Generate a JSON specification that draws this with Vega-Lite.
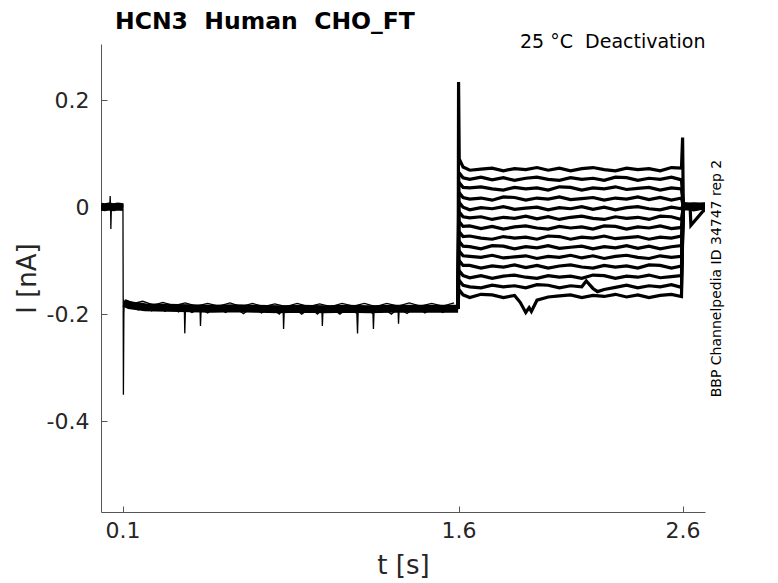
{
"$schema":"https://vega.github.io/schema/vega-lite/v6.json",
"width":604,"height":468,
"autosize":{"type":"none"},
"padding":{"left":101,"top":44,"right":73,"bottom":71},
"background":"white",
"config":{"view":{"stroke":null},"font":"DejaVu Sans","axis":{"grid":false,"domainColor":"#555555","tickColor":"#555555","labelColor":"#262626","titleColor":"#262626","titleFontWeight":"normal","labelFont":"DejaVu Sans","titleFont":"DejaVu Sans"}},
"title":{"text":"HCN3\u00a0 Human\u00a0 CHO_FT","anchor":"start","frame":"group","dx":14,"dy":24,"offset":4,"baseline":"alphabetic","fontSize":23.5,"fontWeight":"bold","color":"#000000","font":"DejaVu Sans"},
"resolve":{"axis":{"x":"independent","y":"independent"}},
"datasets":{
"band":[
{"s":"h","t":0.004,"i":0.001},{"s":"h","t":0.02,"i":0.0},{"s":"h","t":0.04,"i":0.001},{"s":"h","t":0.06,"i":0.0},{"s":"h","t":0.08,"i":0.001},{"s":"h","t":0.103,"i":0.0},
{"s":"a","t":0.107,"i":-0.179},{"s":"a","t":0.13,"i":-0.183},{"s":"a","t":0.16,"i":-0.185},{"s":"a","t":0.2,"i":-0.187},{"s":"a","t":0.3,"i":-0.188},{"s":"a","t":0.4,"i":-0.189},{"s":"a","t":0.5,"i":-0.19},{"s":"a","t":0.6,"i":-0.189},{"s":"a","t":0.7,"i":-0.19},{"s":"a","t":0.8,"i":-0.191},{"s":"a","t":0.9,"i":-0.19},{"s":"a","t":1.0,"i":-0.191},{"s":"a","t":1.1,"i":-0.19},{"s":"a","t":1.2,"i":-0.191},{"s":"a","t":1.3,"i":-0.19},{"s":"a","t":1.4,"i":-0.19},{"s":"a","t":1.5,"i":-0.19},{"s":"a","t":1.598,"i":-0.19}
],
"thin":[
{"s":"n1","t":0.004,"i":0.004},{"s":"n1","t":0.012,"i":-0.003},{"s":"n1","t":0.02,"i":0.004},{"s":"n1","t":0.028,"i":-0.002},{"s":"n1","t":0.036,"i":0.004},{"s":"n1","t":0.043,"i":-0.002},{"s":"n1","t":0.045,"i":0.021},{"s":"n1","t":0.047,"i":-0.002},{"s":"n1","t":0.048,"i":-0.041},{"s":"n1","t":0.05,"i":-0.006},{"s":"n1","t":0.054,"i":0.003},{"s":"n1","t":0.062,"i":-0.003},{"s":"n1","t":0.07,"i":0.004},{"s":"n1","t":0.078,"i":-0.002},{"s":"n1","t":0.086,"i":0.004},{"s":"n1","t":0.094,"i":-0.003},{"s":"n1","t":0.102,"i":0.002},{"s":"n1","t":0.104,"i":-0.351},{"s":"n1","t":0.106,"i":-0.2},{"s":"n1","t":0.108,"i":-0.176},{"s":"n1","t":0.12,"i":-0.183},{"s":"n1","t":0.14,"i":-0.178},{"s":"n1","t":0.17,"i":-0.192},{"s":"n1","t":0.2,"i":-0.184},{"s":"n1","t":0.23,"i":-0.194},{"s":"n1","t":0.26,"i":-0.184},{"s":"n1","t":0.29,"i":-0.195},{"s":"n1","t":0.32,"i":-0.185},{"s":"n1","t":0.35,"i":-0.196},{"s":"n1","t":0.376,"i":-0.19},{"s":"n1","t":0.378,"i":-0.236},{"s":"n1","t":0.381,"i":-0.19},{"s":"n1","t":0.41,"i":-0.197},{"s":"n1","t":0.446,"i":-0.19},{"s":"n1","t":0.448,"i":-0.222},{"s":"n1","t":0.451,"i":-0.191},{"s":"n1","t":0.48,"i":-0.198},{"s":"n1","t":0.52,"i":-0.186},{"s":"n1","t":0.56,"i":-0.197},{"s":"n1","t":0.6,"i":-0.187},{"s":"n1","t":0.64,"i":-0.199},{"s":"n1","t":0.68,"i":-0.186},{"s":"n1","t":0.72,"i":-0.198},{"s":"n1","t":0.76,"i":-0.188},{"s":"n1","t":0.8,"i":-0.2},{"s":"n1","t":0.817,"i":-0.19},{"s":"n1","t":0.819,"i":-0.228},{"s":"n1","t":0.822,"i":-0.192},{"s":"n1","t":0.86,"i":-0.187},{"s":"n1","t":0.9,"i":-0.2},{"s":"n1","t":0.94,"i":-0.188},{"s":"n1","t":0.97,"i":-0.2},{"s":"n1","t":0.99,"i":-0.192},{"s":"n1","t":0.992,"i":-0.222},{"s":"n1","t":0.995,"i":-0.192},{"s":"n1","t":1.03,"i":-0.187},{"s":"n1","t":1.07,"i":-0.2},{"s":"n1","t":1.11,"i":-0.188},{"s":"n1","t":1.146,"i":-0.199},{"s":"n1","t":1.149,"i":-0.236},{"s":"n1","t":1.152,"i":-0.193},{"s":"n1","t":1.19,"i":-0.187},{"s":"n1","t":1.218,"i":-0.2},{"s":"n1","t":1.22,"i":-0.228},{"s":"n1","t":1.223,"i":-0.193},{"s":"n1","t":1.26,"i":-0.188},{"s":"n1","t":1.3,"i":-0.2},{"s":"n1","t":1.33,"i":-0.19},{"s":"n1","t":1.332,"i":-0.218},{"s":"n1","t":1.335,"i":-0.19},{"s":"n1","t":1.37,"i":-0.199},{"s":"n1","t":1.41,"i":-0.186},{"s":"n1","t":1.45,"i":-0.198},{"s":"n1","t":1.49,"i":-0.187},{"s":"n1","t":1.53,"i":-0.197},{"s":"n1","t":1.57,"i":-0.186},{"s":"n1","t":1.598,"i":-0.192},
{"s":"n2","t":0.11,"i":-0.174},{"s":"n2","t":0.15,"i":-0.18},{"s":"n2","t":0.19,"i":-0.176},{"s":"n2","t":0.24,"i":-0.183},{"s":"n2","t":0.28,"i":-0.178},{"s":"n2","t":0.33,"i":-0.184},{"s":"n2","t":0.38,"i":-0.179},{"s":"n2","t":0.43,"i":-0.185},{"s":"n2","t":0.48,"i":-0.18},{"s":"n2","t":0.53,"i":-0.185},{"s":"n2","t":0.58,"i":-0.179},{"s":"n2","t":0.63,"i":-0.186},{"s":"n2","t":0.68,"i":-0.18},{"s":"n2","t":0.73,"i":-0.186},{"s":"n2","t":0.78,"i":-0.181},{"s":"n2","t":0.83,"i":-0.186},{"s":"n2","t":0.88,"i":-0.18},{"s":"n2","t":0.93,"i":-0.186},{"s":"n2","t":0.98,"i":-0.181},{"s":"n2","t":1.03,"i":-0.186},{"s":"n2","t":1.08,"i":-0.18},{"s":"n2","t":1.13,"i":-0.185},{"s":"n2","t":1.18,"i":-0.18},{"s":"n2","t":1.23,"i":-0.186},{"s":"n2","t":1.28,"i":-0.18},{"s":"n2","t":1.33,"i":-0.185},{"s":"n2","t":1.38,"i":-0.179},{"s":"n2","t":1.43,"i":-0.185},{"s":"n2","t":1.48,"i":-0.18},{"s":"n2","t":1.53,"i":-0.185},{"s":"n2","t":1.58,"i":-0.179}
],
"deact":[
{"s":"d01","t":1.598,"i":-0.19},{"s":"d01","t":1.6,"i":0.234},{"s":"d01","t":1.603,"i":0.09},{"s":"d01","t":1.62,"i":0.075},{"s":"d01","t":1.65,"i":0.069},{"s":"d01","t":1.7,"i":0.071},{"s":"d01","t":1.75,"i":0.073},{"s":"d01","t":1.8,"i":0.068},{"s":"d01","t":1.85,"i":0.072},{"s":"d01","t":1.9,"i":0.07},{"s":"d01","t":1.95,"i":0.074},{"s":"d01","t":2.0,"i":0.069},{"s":"d01","t":2.05,"i":0.073},{"s":"d01","t":2.1,"i":0.068},{"s":"d01","t":2.15,"i":0.072},{"s":"d01","t":2.2,"i":0.074},{"s":"d01","t":2.25,"i":0.07},{"s":"d01","t":2.3,"i":0.068},{"s":"d01","t":2.35,"i":0.073},{"s":"d01","t":2.4,"i":0.07},{"s":"d01","t":2.45,"i":0.072},{"s":"d01","t":2.5,"i":0.068},{"s":"d01","t":2.55,"i":0.074},{"s":"d01","t":2.595,"i":0.073},{"s":"d01","t":2.6,"i":0.13},{"s":"d01","t":2.603,"i":0.006},{"s":"d01","t":2.65,"i":0.005},{"s":"d01","t":2.7,"i":0.006},
{"s":"d02","t":1.598,"i":-0.19},{"s":"d02","t":1.601,"i":0.065},{"s":"d02","t":1.62,"i":0.055},{"s":"d02","t":1.65,"i":0.052},{"s":"d02","t":1.7,"i":0.056},{"s":"d02","t":1.75,"i":0.051},{"s":"d02","t":1.8,"i":0.055},{"s":"d02","t":1.85,"i":0.05},{"s":"d02","t":1.9,"i":0.054},{"s":"d02","t":1.95,"i":0.056},{"s":"d02","t":2.0,"i":0.052},{"s":"d02","t":2.05,"i":0.05},{"s":"d02","t":2.1,"i":0.055},{"s":"d02","t":2.15,"i":0.052},{"s":"d02","t":2.2,"i":0.054},{"s":"d02","t":2.25,"i":0.05},{"s":"d02","t":2.3,"i":0.056},{"s":"d02","t":2.35,"i":0.055},{"s":"d02","t":2.4,"i":0.05},{"s":"d02","t":2.45,"i":0.054},{"s":"d02","t":2.5,"i":0.052},{"s":"d02","t":2.55,"i":0.056},{"s":"d02","t":2.595,"i":0.051},{"s":"d02","t":2.603,"i":0.004},{"s":"d02","t":2.65,"i":0.006},{"s":"d02","t":2.7,"i":0.004},
{"s":"d03","t":1.598,"i":-0.19},{"s":"d03","t":1.601,"i":0.047},{"s":"d03","t":1.62,"i":0.037},{"s":"d03","t":1.65,"i":0.036},{"s":"d03","t":1.7,"i":0.038},{"s":"d03","t":1.75,"i":0.034},{"s":"d03","t":1.8,"i":0.032},{"s":"d03","t":1.85,"i":0.037},{"s":"d03","t":1.9,"i":0.034},{"s":"d03","t":1.95,"i":0.036},{"s":"d03","t":2.0,"i":0.032},{"s":"d03","t":2.05,"i":0.038},{"s":"d03","t":2.1,"i":0.037},{"s":"d03","t":2.15,"i":0.032},{"s":"d03","t":2.2,"i":0.036},{"s":"d03","t":2.25,"i":0.034},{"s":"d03","t":2.3,"i":0.038},{"s":"d03","t":2.35,"i":0.033},{"s":"d03","t":2.4,"i":0.035},{"s":"d03","t":2.45,"i":0.037},{"s":"d03","t":2.5,"i":0.032},{"s":"d03","t":2.55,"i":0.036},{"s":"d03","t":2.595,"i":0.034},{"s":"d03","t":2.603,"i":0.007},{"s":"d03","t":2.65,"i":0.003},{"s":"d03","t":2.7,"i":0.005},
{"s":"d04","t":1.598,"i":-0.19},{"s":"d04","t":1.601,"i":0.028},{"s":"d04","t":1.62,"i":0.018},{"s":"d04","t":1.65,"i":0.015},{"s":"d04","t":1.7,"i":0.017},{"s":"d04","t":1.75,"i":0.013},{"s":"d04","t":1.8,"i":0.019},{"s":"d04","t":1.85,"i":0.018},{"s":"d04","t":1.9,"i":0.013},{"s":"d04","t":1.95,"i":0.017},{"s":"d04","t":2.0,"i":0.015},{"s":"d04","t":2.05,"i":0.019},{"s":"d04","t":2.1,"i":0.014},{"s":"d04","t":2.15,"i":0.016},{"s":"d04","t":2.2,"i":0.018},{"s":"d04","t":2.25,"i":0.013},{"s":"d04","t":2.3,"i":0.017},{"s":"d04","t":2.35,"i":0.015},{"s":"d04","t":2.4,"i":0.019},{"s":"d04","t":2.45,"i":0.014},{"s":"d04","t":2.5,"i":0.018},{"s":"d04","t":2.55,"i":0.013},{"s":"d04","t":2.595,"i":0.017},{"s":"d04","t":2.603,"i":0.002},{"s":"d04","t":2.65,"i":0.004},{"s":"d04","t":2.7,"i":0.002},
{"s":"d05","t":1.598,"i":-0.19},{"s":"d05","t":1.601,"i":0.01},{"s":"d05","t":1.62,"i":0.0},{"s":"d05","t":1.65,"i":-0.005},{"s":"d05","t":1.7,"i":-0.001},{"s":"d05","t":1.75,"i":-0.003},{"s":"d05","t":1.8,"i":0.001},{"s":"d05","t":1.85,"i":-0.004},{"s":"d05","t":1.9,"i":-0.002},{"s":"d05","t":1.95,"i":0.0},{"s":"d05","t":2.0,"i":-0.005},{"s":"d05","t":2.05,"i":-0.001},{"s":"d05","t":2.1,"i":-0.003},{"s":"d05","t":2.15,"i":0.001},{"s":"d05","t":2.2,"i":-0.004},{"s":"d05","t":2.25,"i":0.0},{"s":"d05","t":2.3,"i":-0.005},{"s":"d05","t":2.35,"i":-0.001},{"s":"d05","t":2.4,"i":0.001},{"s":"d05","t":2.45,"i":-0.003},{"s":"d05","t":2.5,"i":-0.005},{"s":"d05","t":2.55,"i":0.0},{"s":"d05","t":2.595,"i":-0.003},{"s":"d05","t":2.603,"i":0.005},{"s":"d05","t":2.65,"i":0.001},{"s":"d05","t":2.7,"i":0.003},
{"s":"d06","t":1.598,"i":-0.19},{"s":"d06","t":1.601,"i":-0.008},{"s":"d06","t":1.62,"i":-0.018},{"s":"d06","t":1.65,"i":-0.02},{"s":"d06","t":1.7,"i":-0.018},{"s":"d06","t":1.75,"i":-0.023},{"s":"d06","t":1.8,"i":-0.019},{"s":"d06","t":1.85,"i":-0.021},{"s":"d06","t":1.9,"i":-0.017},{"s":"d06","t":1.95,"i":-0.022},{"s":"d06","t":2.0,"i":-0.018},{"s":"d06","t":2.05,"i":-0.023},{"s":"d06","t":2.1,"i":-0.019},{"s":"d06","t":2.15,"i":-0.017},{"s":"d06","t":2.2,"i":-0.021},{"s":"d06","t":2.25,"i":-0.023},{"s":"d06","t":2.3,"i":-0.018},{"s":"d06","t":2.35,"i":-0.021},{"s":"d06","t":2.4,"i":-0.019},{"s":"d06","t":2.45,"i":-0.023},{"s":"d06","t":2.5,"i":-0.017},{"s":"d06","t":2.55,"i":-0.018},{"s":"d06","t":2.595,"i":-0.023},{"s":"d06","t":2.603,"i":0.0},{"s":"d06","t":2.65,"i":0.003},{"s":"d06","t":2.7,"i":0.001},
{"s":"d07","t":1.598,"i":-0.19},{"s":"d07","t":1.601,"i":-0.026},{"s":"d07","t":1.62,"i":-0.036},{"s":"d07","t":1.65,"i":-0.035},{"s":"d07","t":1.7,"i":-0.04},{"s":"d07","t":1.75,"i":-0.036},{"s":"d07","t":1.8,"i":-0.041},{"s":"d07","t":1.85,"i":-0.037},{"s":"d07","t":1.9,"i":-0.035},{"s":"d07","t":1.95,"i":-0.039},{"s":"d07","t":2.0,"i":-0.041},{"s":"d07","t":2.05,"i":-0.036},{"s":"d07","t":2.1,"i":-0.039},{"s":"d07","t":2.15,"i":-0.037},{"s":"d07","t":2.2,"i":-0.041},{"s":"d07","t":2.25,"i":-0.035},{"s":"d07","t":2.3,"i":-0.036},{"s":"d07","t":2.35,"i":-0.041},{"s":"d07","t":2.4,"i":-0.037},{"s":"d07","t":2.45,"i":-0.039},{"s":"d07","t":2.5,"i":-0.035},{"s":"d07","t":2.55,"i":-0.04},{"s":"d07","t":2.595,"i":-0.038},{"s":"d07","t":2.603,"i":0.003},{"s":"d07","t":2.65,"i":-0.001},{"s":"d07","t":2.7,"i":0.002},
{"s":"d08","t":1.598,"i":-0.19},{"s":"d08","t":1.601,"i":-0.045},{"s":"d08","t":1.62,"i":-0.055},{"s":"d08","t":1.65,"i":-0.054},{"s":"d08","t":1.7,"i":-0.058},{"s":"d08","t":1.75,"i":-0.06},{"s":"d08","t":1.8,"i":-0.055},{"s":"d08","t":1.85,"i":-0.058},{"s":"d08","t":1.9,"i":-0.056},{"s":"d08","t":1.95,"i":-0.06},{"s":"d08","t":2.0,"i":-0.054},{"s":"d08","t":2.05,"i":-0.055},{"s":"d08","t":2.1,"i":-0.06},{"s":"d08","t":2.15,"i":-0.056},{"s":"d08","t":2.2,"i":-0.058},{"s":"d08","t":2.25,"i":-0.054},{"s":"d08","t":2.3,"i":-0.059},{"s":"d08","t":2.35,"i":-0.057},{"s":"d08","t":2.4,"i":-0.055},{"s":"d08","t":2.45,"i":-0.06},{"s":"d08","t":2.5,"i":-0.056},{"s":"d08","t":2.55,"i":-0.058},{"s":"d08","t":2.595,"i":-0.054},{"s":"d08","t":2.603,"i":-0.002},{"s":"d08","t":2.65,"i":0.002},{"s":"d08","t":2.7,"i":0.0},
{"s":"d09","t":1.598,"i":-0.19},{"s":"d09","t":1.601,"i":-0.063},{"s":"d09","t":1.62,"i":-0.073},{"s":"d09","t":1.65,"i":-0.074},{"s":"d09","t":1.7,"i":-0.078},{"s":"d09","t":1.75,"i":-0.072},{"s":"d09","t":1.8,"i":-0.073},{"s":"d09","t":1.85,"i":-0.078},{"s":"d09","t":1.9,"i":-0.074},{"s":"d09","t":1.95,"i":-0.076},{"s":"d09","t":2.0,"i":-0.072},{"s":"d09","t":2.05,"i":-0.077},{"s":"d09","t":2.1,"i":-0.075},{"s":"d09","t":2.15,"i":-0.073},{"s":"d09","t":2.2,"i":-0.078},{"s":"d09","t":2.25,"i":-0.074},{"s":"d09","t":2.3,"i":-0.076},{"s":"d09","t":2.35,"i":-0.072},{"s":"d09","t":2.4,"i":-0.077},{"s":"d09","t":2.45,"i":-0.073},{"s":"d09","t":2.5,"i":-0.078},{"s":"d09","t":2.55,"i":-0.074},{"s":"d09","t":2.595,"i":-0.072},{"s":"d09","t":2.603,"i":0.001},{"s":"d09","t":2.65,"i":-0.003},{"s":"d09","t":2.7,"i":0.001},
{"s":"d10","t":1.598,"i":-0.19},{"s":"d10","t":1.601,"i":-0.081},{"s":"d10","t":1.62,"i":-0.091},{"s":"d10","t":1.65,"i":-0.092},{"s":"d10","t":1.7,"i":-0.094},{"s":"d10","t":1.75,"i":-0.09},{"s":"d10","t":1.8,"i":-0.095},{"s":"d10","t":1.85,"i":-0.093},{"s":"d10","t":1.9,"i":-0.091},{"s":"d10","t":1.95,"i":-0.096},{"s":"d10","t":2.0,"i":-0.092},{"s":"d10","t":2.05,"i":-0.094},{"s":"d10","t":2.1,"i":-0.09},{"s":"d10","t":2.15,"i":-0.095},{"s":"d10","t":2.2,"i":-0.091},{"s":"d10","t":2.25,"i":-0.096},{"s":"d10","t":2.3,"i":-0.092},{"s":"d10","t":2.35,"i":-0.09},{"s":"d10","t":2.4,"i":-0.094},{"s":"d10","t":2.45,"i":-0.096},{"s":"d10","t":2.5,"i":-0.091},{"s":"d10","t":2.55,"i":-0.094},{"s":"d10","t":2.595,"i":-0.092},{"s":"d10","t":2.603,"i":-0.003},{"s":"d10","t":2.65,"i":0.0},{"s":"d10","t":2.7,"i":-0.001},
{"s":"d11","t":1.598,"i":-0.19},{"s":"d11","t":1.601,"i":-0.099},{"s":"d11","t":1.62,"i":-0.109},{"s":"d11","t":1.65,"i":-0.109},{"s":"d11","t":1.7,"i":-0.114},{"s":"d11","t":1.75,"i":-0.11},{"s":"d11","t":1.8,"i":-0.112},{"s":"d11","t":1.85,"i":-0.108},{"s":"d11","t":1.9,"i":-0.113},{"s":"d11","t":1.95,"i":-0.109},{"s":"d11","t":2.0,"i":-0.114},{"s":"d11","t":2.05,"i":-0.11},{"s":"d11","t":2.1,"i":-0.108},{"s":"d11","t":2.15,"i":-0.112},{"s":"d11","t":2.2,"i":-0.114},{"s":"d11","t":2.25,"i":-0.109},{"s":"d11","t":2.3,"i":-0.112},{"s":"d11","t":2.35,"i":-0.11},{"s":"d11","t":2.4,"i":-0.114},{"s":"d11","t":2.45,"i":-0.108},{"s":"d11","t":2.5,"i":-0.109},{"s":"d11","t":2.55,"i":-0.114},{"s":"d11","t":2.595,"i":-0.11},{"s":"d11","t":2.603,"i":0.0},{"s":"d11","t":2.65,"i":-0.004},{"s":"d11","t":2.7,"i":0.0},
{"s":"d12","t":1.598,"i":-0.19},{"s":"d12","t":1.601,"i":-0.118},{"s":"d12","t":1.62,"i":-0.128},{"s":"d12","t":1.65,"i":-0.132},{"s":"d12","t":1.7,"i":-0.128},{"s":"d12","t":1.75,"i":-0.133},{"s":"d12","t":1.8,"i":-0.129},{"s":"d12","t":1.85,"i":-0.127},{"s":"d12","t":1.9,"i":-0.131},{"s":"d12","t":1.95,"i":-0.133},{"s":"d12","t":2.0,"i":-0.128},{"s":"d12","t":2.05,"i":-0.131},{"s":"d12","t":2.1,"i":-0.129},{"s":"d12","t":2.15,"i":-0.133},{"s":"d12","t":2.2,"i":-0.127},{"s":"d12","t":2.25,"i":-0.128},{"s":"d12","t":2.3,"i":-0.133},{"s":"d12","t":2.35,"i":-0.129},{"s":"d12","t":2.4,"i":-0.131},{"s":"d12","t":2.45,"i":-0.127},{"s":"d12","t":2.5,"i":-0.132},{"s":"d12","t":2.55,"i":-0.13},{"s":"d12","t":2.595,"i":-0.128},{"s":"d12","t":2.603,"i":-0.004},{"s":"d12","t":2.65,"i":-0.002},{"s":"d12","t":2.7,"i":-0.002},
{"s":"d13","t":1.598,"i":-0.19},{"s":"d13","t":1.601,"i":-0.136},{"s":"d13","t":1.62,"i":-0.146},{"s":"d13","t":1.65,"i":-0.149},{"s":"d13","t":1.7,"i":-0.151},{"s":"d13","t":1.75,"i":-0.146},{"s":"d13","t":1.8,"i":-0.149},{"s":"d13","t":1.85,"i":-0.147},{"s":"d13","t":1.9,"i":-0.151},{"s":"d13","t":1.95,"i":-0.145},{"s":"d13","t":2.0,"i":-0.146},{"s":"d13","t":2.05,"i":-0.151},{"s":"d13","t":2.1,"i":-0.147},{"s":"d13","t":2.15,"i":-0.149},{"s":"d13","t":2.17,"i":-0.138},{"s":"d13","t":2.2,"i":-0.152},{"s":"d13","t":2.22,"i":-0.158},{"s":"d13","t":2.25,"i":-0.154},{"s":"d13","t":2.3,"i":-0.15},{"s":"d13","t":2.35,"i":-0.146},{"s":"d13","t":2.4,"i":-0.151},{"s":"d13","t":2.45,"i":-0.147},{"s":"d13","t":2.5,"i":-0.149},{"s":"d13","t":2.55,"i":-0.145},{"s":"d13","t":2.595,"i":-0.15},{"s":"d13","t":2.603,"i":-0.001},{"s":"d13","t":2.65,"i":-0.005},{"s":"d13","t":2.7,"i":-0.001},
{"s":"d14","t":1.598,"i":-0.19},{"s":"d14","t":1.601,"i":-0.154},{"s":"d14","t":1.62,"i":-0.164},{"s":"d14","t":1.65,"i":-0.169},{"s":"d14","t":1.7,"i":-0.163},{"s":"d14","t":1.75,"i":-0.164},{"s":"d14","t":1.8,"i":-0.169},{"s":"d14","t":1.85,"i":-0.165},{"s":"d14","t":1.875,"i":-0.178},{"s":"d14","t":1.9,"i":-0.197},{"s":"d14","t":1.915,"i":-0.188},{"s":"d14","t":1.925,"i":-0.195},{"s":"d14","t":1.95,"i":-0.174},{"s":"d14","t":2.0,"i":-0.168},{"s":"d14","t":2.05,"i":-0.166},{"s":"d14","t":2.1,"i":-0.164},{"s":"d14","t":2.15,"i":-0.169},{"s":"d14","t":2.2,"i":-0.165},{"s":"d14","t":2.25,"i":-0.167},{"s":"d14","t":2.3,"i":-0.163},{"s":"d14","t":2.35,"i":-0.168},{"s":"d14","t":2.4,"i":-0.164},{"s":"d14","t":2.45,"i":-0.169},{"s":"d14","t":2.5,"i":-0.165},{"s":"d14","t":2.55,"i":-0.163},{"s":"d14","t":2.595,"i":-0.167},{"s":"d14","t":2.603,"i":-0.002},{"s":"d14","t":2.634,"i":-0.003},{"s":"d14","t":2.637,"i":-0.034},{"s":"d14","t":2.69,"i":-0.008},{"s":"d14","t":2.7,"i":-0.005}
]
},
"layer":[
{"data":{"name":"deact"},"mark":{"type":"line","color":"#000000","strokeWidth":3.2,"clip":true},
"encoding":{
"x":{"field":"t","type":"quantitative","scale":{"domain":[0.004,2.7],"nice":false,"zero":false},
"axis":{"orient":"bottom","values":[0.1,1.6,2.6],"format":".1f","title":"t [s]","tickSize":-6,"labelFontSize":22,"titleFontSize":26,"labelPadding":14,"titlePadding":11,"labelFlush":false}},
"y":{"field":"i","type":"quantitative","scale":{"domain":[-0.57,0.305],"nice":false,"zero":false},
"axis":{"orient":"left","values":[0.2,0,-0.2,-0.4],"labelExpr":"datum.value > 0.1 ? '0.2' : datum.value > -0.1 ? '0' : datum.value > -0.3 ? '-0.2' : '-0.4'","title":"I [nA]","tickSize":-6,"labelFontSize":22,"titleFontSize":26,"labelPadding":18,"titlePadding":6}},
"detail":{"field":"s"}}},
{"data":{"name":"band"},"mark":{"type":"line","color":"#000000","strokeWidth":8,"clip":true},
"encoding":{
"x":{"field":"t","type":"quantitative","scale":{"domain":[0.004,2.7],"nice":false,"zero":false},
"axis":{"orient":"top","title":"25 °C\u00a0 Deactivation","labels":false,"ticks":false,"domain":false,"titleAnchor":"end","titleFontSize":19,"titleColor":"#000000","titleBaseline":"alphabetic","titlePadding":-3}},
"y":{"field":"i","type":"quantitative","scale":{"domain":[-0.57,0.305],"nice":false,"zero":false},
"axis":{"orient":"right","title":"BBP Channelpedia ID 34747 rep 2","labels":false,"ticks":false,"domain":false,"titleAngle":270,"titleBaseline":"middle","titleFontSize":14,"titleColor":"#000000","titlePadding":11}},
"detail":{"field":"s"}}},
{"data":{"name":"thin"},"mark":{"type":"line","color":"#000000","strokeWidth":1.3,"clip":true},
"encoding":{
"x":{"field":"t","type":"quantitative","scale":{"domain":[0.004,2.7],"nice":false,"zero":false},"axis":null},
"y":{"field":"i","type":"quantitative","scale":{"domain":[-0.57,0.305],"nice":false,"zero":false},"axis":null},
"detail":{"field":"s"}}}
]
}
